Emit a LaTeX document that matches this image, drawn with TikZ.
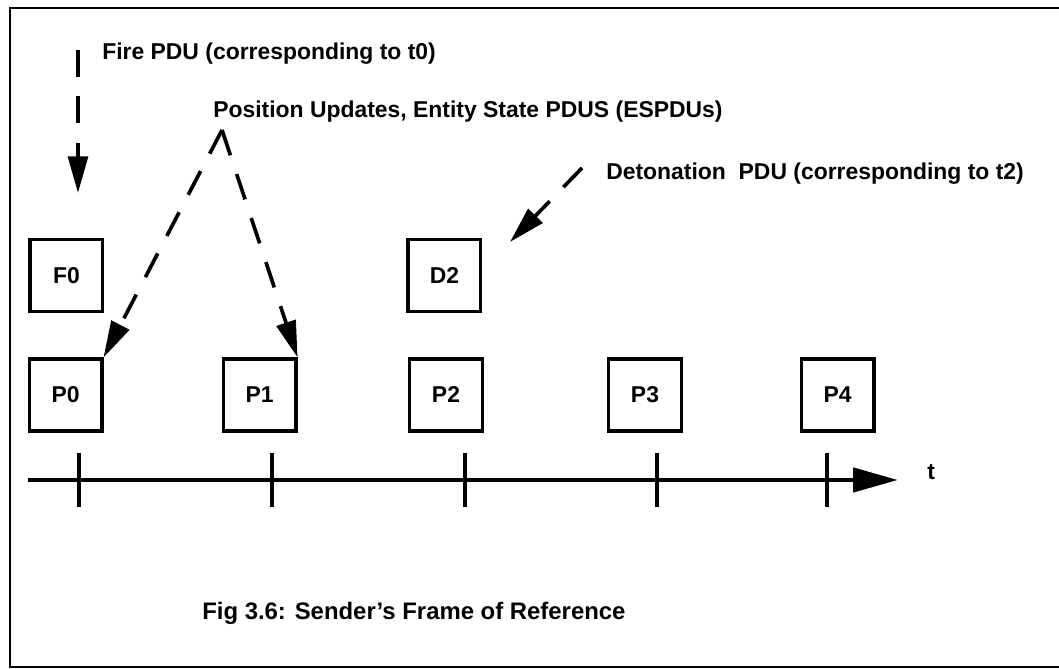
\documentclass[tikz,border=0pt]{standalone}
\usepackage{fontspec}
\setmainfont{Liberation Sans}
\usetikzlibrary{arrows.meta}

\begin{document}
\begin{tikzpicture}[
  pdubox/.style={draw, line width=2.2pt, minimum width=1.82cm, minimum height=1.8cm, inner sep=0pt, font=\fontsize{16.3}{18}\selectfont\bfseries},
  lbl/.style={anchor=base west, inner sep=0pt, font=\fontsize{16.3}{18}\selectfont\bfseries},
  msg/.style={line width=2.6pt, dash pattern=on 19pt off 14pt, -{Triangle[length=26pt,width=14pt]}},
  tickmark/.style={line width=3.5pt}
]
\useasboundingbox (0,0) rectangle (26.475,16.725);
%\draw[step=1cm,gray,very thin] (0,0) grid (26,16); %background grid
\draw[line width=2pt] (26.475,16.525) -- (0.25,16.525) -- (0.25,0.05) -- (26.475,0.05);

\node[lbl] (fire) at (2.55,15.225) {Fire PDU (corresponding to t0)};
\node[lbl] (pos)  at (5.325,13.775) {Position Updates, Entity State PDUS (ESPDUs)};
\node[lbl] (det)  at (15.15,12.225) {Detonation\ \ PDU (corresponding to t2)};

\node[pdubox] (F0) at (1.66,9.84) {F0};
\node[pdubox] (D2) at (11.11,9.84) {D2};

\node[pdubox] (P0) at (1.64,6.85)  {P0};
\node[pdubox] (P1) at (6.49,6.85)  {P1};
\node[pdubox] (P2) at (11.15,6.85) {P2};
\node[pdubox] (P3) at (16.125,6.85) {P3};
\node[pdubox] (P4) at (20.94,6.85) {P4};

\coordinate (fireS) at (1.95,15.475);
\coordinate (fireE) at (1.95,11.9);
\coordinate (apex)  at (5.55,13.475);
\coordinate (detS)  at (14.55,12.525);
\coordinate (detE)  at (12.75,10.675);

\draw[msg] (fireS) -- (fireE);
\draw[msg] (apex) -- (P0.north east);
\draw[msg] (apex) -- (P1.north east);
\draw[msg] (detS) -- (detE);

% time axis
\coordinate (tS) at (0.7,4.725);
\coordinate (tE) at (22.45,4.725);
\draw[line width=3.5pt, -{Triangle[length=32pt,width=17pt]}] (tS) -- (tE);
\foreach \x in {1.975,6.8,11.625,16.425,20.675}
  \draw[tickmark] (\x,4.05) -- (\x,5.4);
\node[lbl] (t) at (23.175,4.725) {t};

\node[lbl, font=\fontsize{17}{19}\selectfont\bfseries] (cap) at (5.05,1.225) {Fig 3.6: Sender's Frame of Reference};

\end{tikzpicture}
\end{document}
